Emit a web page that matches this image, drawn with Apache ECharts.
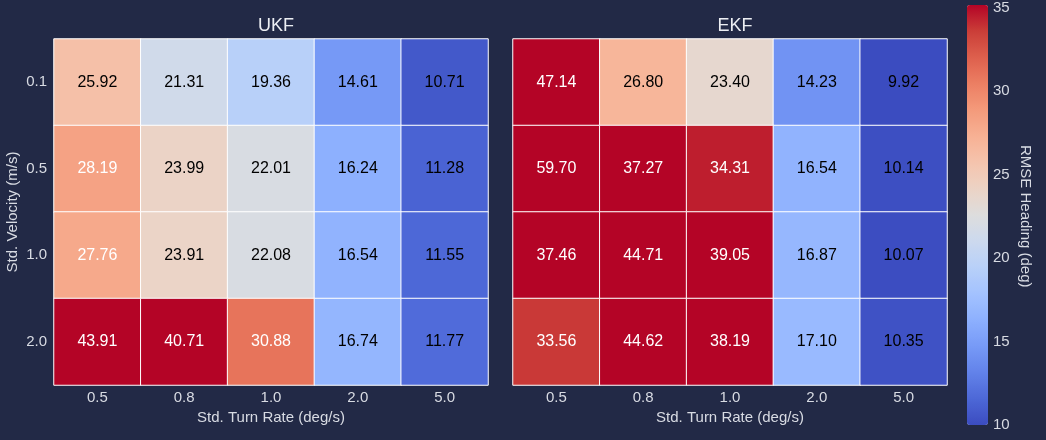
<!DOCTYPE html>
<html>
<head>
<meta charset="utf-8">
<script src="https://cdn.jsdelivr.net/npm/echarts@6/dist/echarts.min.js"></script>
<style>
  html, body { margin: 0; padding: 0; background: #222946; }
  #chart { width: 1046px; height: 440px; }
</style>
</head>
<body>
<div id="chart"></div>
<script>
// axis categories
const turnRates = ["0.5", "0.8", "1.0", "2.0", "5.0"];
const velocities = ["0.1", "0.5", "1.0", "2.0"];

// RMSE heading (deg), one row per velocity
const ukfValues = [
    [25.92, 21.31, 19.36, 14.61, 10.71],
    [28.19, 23.99, 22.01, 16.24, 11.28],
    [27.76, 23.91, 22.08, 16.54, 11.55],
    [43.91, 40.71, 30.88, 16.74, 11.77],
];
const ekfValues = [
    [47.14, 26.80, 23.40, 14.23, 9.92],
    [59.70, 37.27, 34.31, 16.54, 10.14],
    [37.46, 44.71, 39.05, 16.87, 10.07],
    [33.56, 44.62, 38.19, 17.10, 10.35],
];

const vmin = 10;
const vmax = 35;

// matplotlib coolwarm
const coolwarm = [
    "#3b4cc0", "#4d68d7", "#6282ea", "#779af7", "#8db0fe", "#a3c2ff",
    "#b8d0f9", "#ccd9ee", "#dddddd", "#ecd3c5", "#f5c4ad", "#f7b194",
    "#f49a7b", "#ec7f63", "#de604d", "#cb3e38", "#b40426",
];

const textColor = "#d8dbe3";
const font = "Liberation Sans, Arial, sans-serif";

function toData(rows) {
    const out = [];
    rows.forEach((row, yi) => {
        row.forEach((v, xi) => {
            out.push({
                value: [xi, yi, v, Math.min(vmax, Math.max(vmin, v))],
                label: { color: v >= 27 ? "#ffffff" : "#000000" },
            });
        });
    });
    return out;
}

const chart = echarts.init(document.getElementById("chart"));

const grids = [
    { left: 54, top: 39, width: 434, height: 346 },
    { left: 513, top: 39, width: 434, height: 346 },
    { left: 967, top: 5, width: 21, height: 420 },
];

function xAxis(gridIndex) {
    return {
        type: "category",
        gridIndex,
        data: turnRates,
        name: "Std. Turn Rate (deg/s)",
        nameLocation: "middle",
        nameGap: 21,
        nameTextStyle: { color: textColor, fontSize: 15, fontFamily: font },
        axisLine: { show: false },
        axisTick: { show: false },
        axisLabel: { color: textColor, fontSize: 15, fontFamily: font, margin: 5 },
        splitArea: { show: false },
    };
}

function yAxis(gridIndex, showLabels) {
    return {
        type: "category",
        gridIndex,
        data: velocities,
        inverse: true,
        name: showLabels ? "Std. Velocity (m/s)" : "",
        nameLocation: "middle",
        nameRotate: 90,
        nameGap: 34,
        nameTextStyle: { color: textColor, fontSize: 15, fontFamily: font },
        axisLine: { show: false },
        axisTick: { show: false },
        axisLabel: { show: showLabels, color: textColor, fontSize: 15, fontFamily: font, margin: 7 },
    };
}

function heatSeries(idx, rows) {
    return {
        type: "heatmap",
        xAxisIndex: idx,
        yAxisIndex: idx,
        data: toData(rows),
        label: {
            show: true,
            fontSize: 16,
            fontFamily: font,
            formatter: (p) => p.value[2].toFixed(2),
        },
        itemStyle: { borderColor: "#ffffff", borderWidth: 1 },
        emphasis: { disabled: true },
    };
}

chart.setOption({
    backgroundColor: "#222946",
    animation: false,
    title: [
        { text: "UKF", left: 271, top: 12, textAlign: "center",
          textStyle: { color: "#eceef3", fontSize: 18, fontWeight: "normal", fontFamily: font } },
        { text: "EKF", left: 730, top: 12, textAlign: "center",
          textStyle: { color: "#eceef3", fontSize: 18, fontWeight: "normal", fontFamily: font } },
    ],
    grid: grids,
    xAxis: [
        xAxis(0),
        xAxis(1),
        { type: "category", gridIndex: 2, show: false, data: [""] },
    ],
    yAxis: [
        yAxis(0, true),
        yAxis(1, false),
        {
            type: "value",
            gridIndex: 2,
            position: "right",
            min: vmin,
            max: vmax,
            interval: 5,
            name: "RMSE Heading (deg)",
            nameLocation: "middle",
            nameRotate: -90,
            nameGap: 30,
            nameTextStyle: { color: textColor, fontSize: 15, fontFamily: font },
            axisLine: { show: false },
            axisTick: { show: false },
            splitLine: { show: false },
            axisLabel: { color: textColor, fontSize: 15, fontFamily: font, margin: 5 },
        },
    ],
    visualMap: {
        type: "continuous",
        min: vmin,
        max: vmax,
        dimension: 3,
        seriesIndex: [0, 1],
        calculable: false,
        hoverLink: false,
        left: 967,
        top: 5,
        padding: 0,
        itemWidth: 21,
        itemHeight: 420,
        text: null,
        inRange: { color: coolwarm },
    },
    series: [
        heatSeries(0, ukfValues),
        heatSeries(1, ekfValues),
        { type: "scatter", xAxisIndex: 2, yAxisIndex: 2, data: [], silent: true },
    ],
});
</script>
</body>
</html>
